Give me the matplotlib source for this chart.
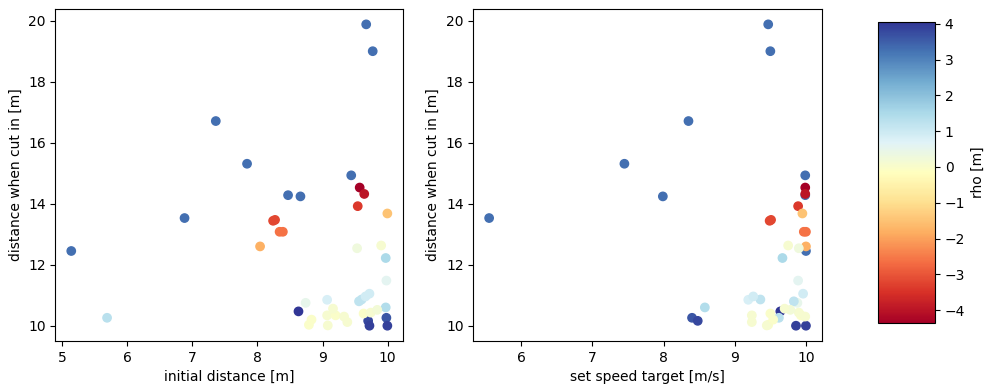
import matplotlib
matplotlib.use("Agg")
import matplotlib.pyplot as plt
import numpy as np

# one entry per run: initial distance, set speed target, cut-in distance, rho
init_dist = [9.67, 9.77, 7.36, 7.84, 9.44, 8.47, 8.66, 6.88, 5.14,
             9.57, 9.64, 9.54, 9.995, 8.24, 8.27, 8.34, 8.39, 8.04,
             9.53, 9.90, 9.97, 9.98,
             8.74, 9.07, 9.56, 9.60, 9.66, 9.72,
             9.97, 8.63, 9.98, 9.70, 9.72, 9.995, 5.69,
             8.79, 9.08, 8.83, 9.38, 9.07, 9.20, 9.33, 9.63, 9.74, 9.84, 9.16]
speed = [9.47, 9.50, 8.35, 7.45, 9.99, 9.99, 7.99, 5.55, 10.00,
         9.99, 9.99, 9.89, 9.95, 9.49, 9.51, 9.97, 10.00, 10.00,
         9.90, 9.75, 9.67, 9.89,
         9.88, 9.19, 9.83, 9.36, 9.26, 9.96,
         8.58, 9.64, 8.40, 8.48, 9.86, 10.00, 9.62,
         9.47, 9.45, 9.54, 9.24, 9.24, 9.93, 9.99, 9.50, 9.90, 9.78, 9.70]
cut_dist = [19.88, 19.00, 16.71, 15.31, 14.93, 14.28, 14.24, 13.53, 12.45,
            14.53, 14.32, 13.92, 13.68, 13.44, 13.47, 13.08, 13.08, 12.60,
            12.54, 12.63, 12.22, 11.48,
            10.75, 10.85, 10.80, 10.86, 10.96, 11.05,
            10.60, 10.47, 10.26, 10.16, 10.00, 10.00, 10.26,
            10.03, 10.01, 10.20, 10.12, 10.34, 10.34, 10.30, 10.40, 10.43, 10.52, 10.56]
rho = [3.3, 3.3, 3.3, 3.3, 3.3, 3.3, 3.3, 3.3, 3.3,
       -4.37, -4.0, -3.4, -1.5, -3.2, -3.2, -2.6, -2.6, -1.8,
       0.3, 0.1, 1.5, 0.6,
       0.5, 0.8, 1.2, 1.2, 0.9, 0.9,
       1.4, 4.06, 3.6, 3.8, 3.9, 3.9, 1.3,
       0.0, 0.1, 0.0, 0.1, 0.1, 0.0, 0.1, 0.0, 0.1, 0.2, 0.1]

vmin, vmax = min(rho), max(rho)

fig = plt.figure(figsize=(9.85, 3.87), dpi=100)
ax1 = fig.add_axes([0.0563, 0.1194, 0.3530, 0.8566])
ax2 = fig.add_axes([0.4805, 0.1194, 0.3538, 0.8566])
cax = fig.add_axes([0.8914, 0.1646, 0.0579, 0.7794])

sc = ax1.scatter(init_dist, cut_dist, c=rho, cmap="RdYlBu", vmin=vmin, vmax=vmax)
ax1.set_xlabel("initial distance [m]")
ax1.set_ylabel("distance when cut in [m]")

ax2.scatter(speed, cut_dist, c=rho, cmap="RdYlBu", vmin=vmin, vmax=vmax)
ax2.set_xlabel("set speed target [m/s]")
ax2.set_ylabel("distance when cut in [m]")

cb = fig.colorbar(sc, cax=cax)
cb.set_label("rho [m]")

fig.savefig("out.png", dpi=100)
